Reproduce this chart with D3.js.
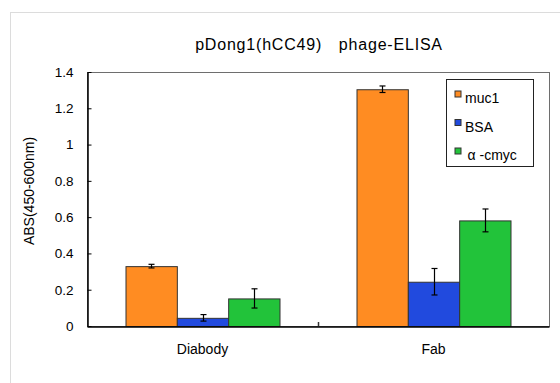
<!DOCTYPE html>
<html lang="ja">
<head>
<meta charset="UTF-8">
<title>pDong1(hCC49) phage-ELISA</title>
<script src="https://d3js.org/d3.v7.min.js"></script>
<style>
    body { margin: 0; background: #fff; }
    text { font-family: "Liberation Sans", Arial, sans-serif; fill: #000; }
</style>
</head>
<body>
<div id="chart"></div>
<script>
    // データ
    const categories = ["Diabody", "Fab"];
    const seriesNames = ["muc1", "BSA", "\u03b1 -cmyc"];
    const seriesColors = ["#ff8c22", "#214ade", "#22c33a"];
    const values = [
        [0.33, 1.305],   // muc1
        [0.045, 0.244],  // BSA
        [0.152, 0.582]   // α-cmyc
    ];
    const errors = [
        [0.01, 0.018],
        [0.018, 0.073],
        [0.053, 0.063]
    ];
    const yTicks = [0, 0.2, 0.4, 0.6, 0.8, 1, 1.2, 1.4];

    const width = 560, height = 383;
    const margin = { left: 87, top: 72, right: 11, bottom: 57 };
    const plotW = width - margin.left - margin.right;
    const plotH = height - margin.top - margin.bottom;

    const svg = d3.select("#chart").append("svg")
        .attr("width", width)
        .attr("height", height);

    // 外枠
    svg.append("rect")
        .attr("x", 10.5).attr("y", 12.5)
        .attr("width", width).attr("height", height)
        .attr("fill", "none")
        .attr("stroke", "#dcdcdc");

    // タイトル
    svg.append("text")
        .attr("x", 319).attr("y", 50)
        .attr("text-anchor", "middle")
        .style("font-size", "16px")
        .style("letter-spacing", "0.8px")
        .text("pDong1(hCC49)\u3000phage-ELISA");

    const g = svg.append("g")
        .attr("transform", `translate(${margin.left},${margin.top})`);

    const x0 = d3.scaleBand().domain(categories).range([0, plotW]);
    const x1 = d3.scaleBand().domain(d3.range(seriesNames.length))
        .range([0, x0.bandwidth()]).paddingOuter(0.75);
    const y = d3.scaleLinear().domain([0, 1.4]).range([plotH, 0]);

    // 枠（上・右）
    g.append("rect")
        .attr("x", 0.5).attr("y", 0.5)
        .attr("width", plotW).attr("height", plotH)
        .attr("fill", "none")
        .attr("stroke", "#6e6e6e");

    // 棒
    seriesNames.forEach((name, s) => {
        const grp = g.append("g");
        grp.selectAll("rect")
            .data(categories)
            .enter().append("rect")
            .attr("x", c => x0(c) + x1(s) + 0.5)
            .attr("y", (c, i) => y(values[s][i]) + 0.5)
            .attr("width", x1.bandwidth())
            .attr("height", (c, i) => plotH - y(values[s][i]))
            .attr("fill", seriesColors[s])
            .attr("stroke", "#333")
            .attr("stroke-width", 1);

        // 誤差線
        categories.forEach((c, i) => {
            const cx = Math.round(x0(c) + x1(s) + x1.bandwidth() / 2) + 0.5;
            const lo = y(values[s][i] - errors[s][i]);
            const hi = y(values[s][i] + errors[s][i]);
            grp.append("line").attr("x1", cx).attr("x2", cx)
                .attr("y1", lo).attr("y2", hi)
                .attr("stroke", "#000").attr("stroke-width", 1.2);
            [lo, hi].forEach(v => {
                grp.append("line").attr("x1", cx - 3).attr("x2", cx + 3)
                    .attr("y1", v).attr("y2", v)
                    .attr("stroke", "#000").attr("stroke-width", 1.2);
            });
        });
    });

    // Y軸
    const yAxis = g.append("g")
        .attr("transform", "translate(0.5,0)")
        .call(d3.axisLeft(y).tickValues(yTicks).tickSizeInner(-4).tickSizeOuter(0)
            .tickPadding(14).tickFormat(d => d3.format("")(d)));
    yAxis.select(".domain").attr("stroke", "#000").attr("stroke-width", 1.5);
    yAxis.selectAll(".tick line").attr("stroke", "#000");
    yAxis.selectAll("text").style("font-size", "13.5px").attr("font-family", null);

    // X軸
    const xAxis = g.append("g")
        .attr("transform", `translate(0,${plotH + 0.5})`)
        .call(d3.axisBottom(x0).tickSize(0).tickPadding(18));
    xAxis.select(".domain").attr("stroke", "#000").attr("stroke-width", 1.5);
    xAxis.selectAll("text").style("font-size", "14px").attr("font-family", null);
    // カテゴリ区切り目盛
    g.append("line")
        .attr("x1", x0("Fab") + 0.5).attr("x2", x0("Fab") + 0.5)
        .attr("y1", plotH).attr("y2", plotH - 4)
        .attr("stroke", "#333").attr("stroke-width", 1.5);

    // Y軸ラベル
    svg.append("text")
        .attr("transform", "translate(34,191) rotate(-90)")
        .attr("text-anchor", "middle")
        .style("font-size", "14px")
        .text("ABS(450-600nm)");

    // 凡例
    const legend = svg.append("g").attr("transform", "translate(446.5,79.5)");
    legend.append("rect")
        .attr("width", 87).attr("height", 87)
        .attr("fill", "#fff").attr("stroke", "#222");
    seriesNames.forEach((name, s) => {
        const ly = 11.5 + s * 28.5;
        legend.append("rect")
            .attr("x", 8.5).attr("y", ly)
            .attr("width", 6).attr("height", 6)
            .attr("fill", seriesColors[s]).attr("stroke", "#333");
        legend.append("text")
            .attr("x", s === 2 ? 21 : 18.5).attr("y", ly + 12)
            .style("font-size", "14px")
            .text(name);
    });
</script>
</body>
</html>
